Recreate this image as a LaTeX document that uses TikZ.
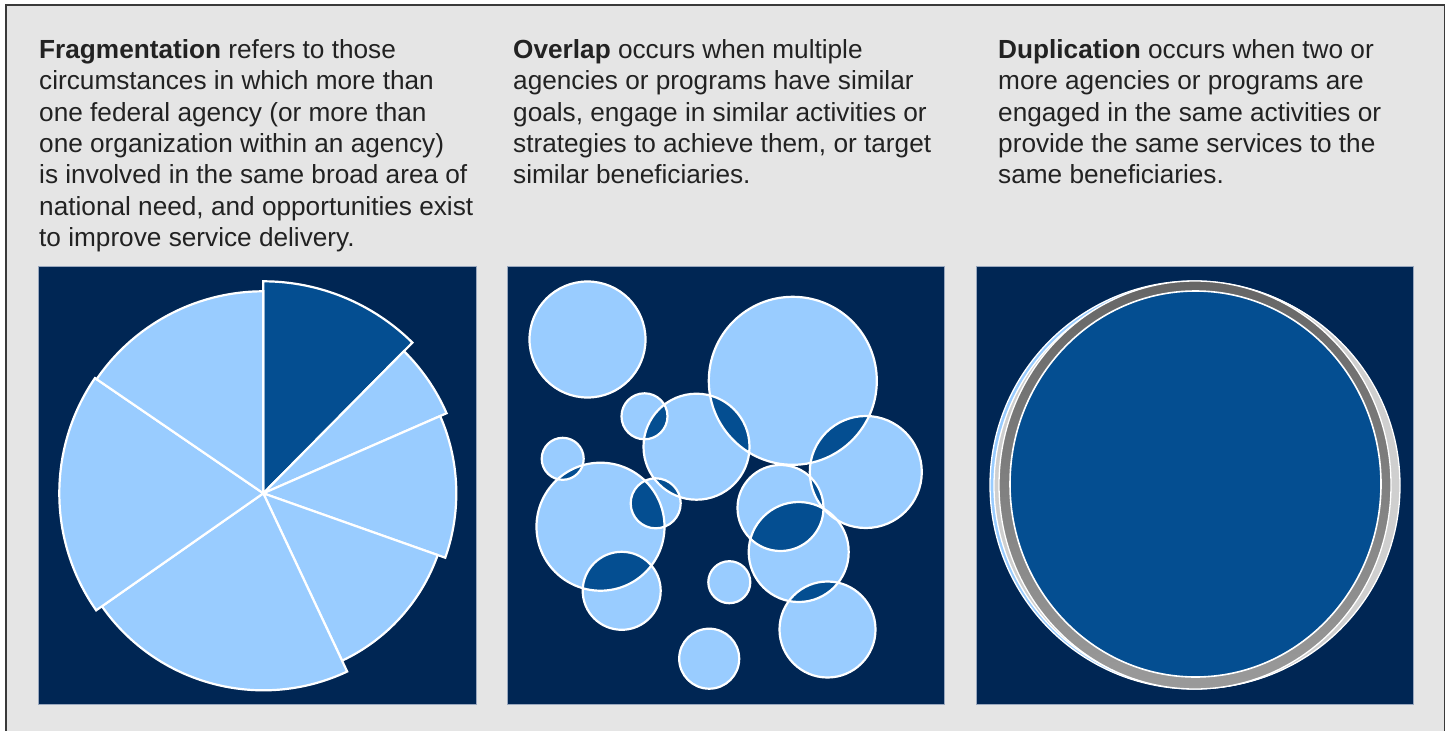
\documentclass[tikz,border=0pt]{standalone}
\usepackage{fontspec}
\setmainfont{Liberation Sans}
\definecolor{navy}{HTML}{002654}
\definecolor{darkblue}{HTML}{044E91}
\definecolor{lightblue}{HTML}{99CCFF}
\definecolor{bggray}{HTML}{E5E5E5}
\definecolor{framec}{HTML}{3A3A3A}
\definecolor{textc}{HTML}{222222}
\definecolor{panelrim}{HTML}{9AA8BE}
\definecolor{lgray}{HTML}{CFCFCF}
\definecolor{dgray}{HTML}{666666}
\definecolor{mgray}{HTML}{9A9A9A}
\newcommand\ovlens[6]{\begin{scope}\clip (#1,#2) circle[radius=#3];\fill[darkblue] (#4,#5) circle[radius=#6];\end{scope}}
\begin{document}
\begin{tikzpicture}[x=1pt,y=-1pt,
  txt/.style={align=left,inner sep=0pt,anchor=base west,text=textc,font=\fontsize{26.2}{31.4}\selectfont},
  panel/.style={fill=navy,draw=panelrim,line width=0.8pt},
  slice/.style={draw=white,line width=2.2pt,line join=miter},
  bubble/.style={draw=white,line width=2.2pt},
  ring/.style={draw=white,line width=1.3pt}]
\useasboundingbox (0,0) rectangle (1449,731);
\fill[white] (0,0) rectangle (1449,731);
\begin{scope}
\clip (0,0) rectangle (1449,731);
\filldraw[fill=bggray,draw=framec,line width=1.5pt] (6,5) rectangle (1444.5,745);
\end{scope}

% texts (anchored at the baseline of their last line)
\node[txt] (frag) at (39,246.7) {\textbf{Fragmentation} refers to those\\circumstances in which more than\\one federal agency (or more than\\one organization within an agency)\\is involved in the same broad area of\\national need, and opportunities exist\\to improve service delivery.};
\node[txt] (over) at (513,183.9) {\textbf{Overlap} occurs when multiple\\agencies or programs have similar\\goals, engage in similar activities or\\strategies to achieve them, or target\\similar beneficiaries.};
\node[txt] (dupl) at (998,183.9) {\textbf{Duplication} occurs when two or\\more agencies or programs are\\engaged in the same activities or\\provide the same services to the\\same beneficiaries.};

% panels
\draw[panel] (38,266) rectangle (476,704);
\draw[panel] (507,266) rectangle (944,704);
\draw[panel] (976,266) rectangle (1413.5,704);

% pie (fragmentation)
\begin{scope}[shift={(263.3,493.3)},yscale=-1]
\foreach \a/\b/\r/\c in {45.3/90/212/darkblue,23.6/45.3/200/lightblue,-19.5/23.6/193/lightblue,-64.8/-19.5/185/lightblue,-145/-64.8/197/lightblue,145.6/215/204/lightblue,90/145.6/202/lightblue}
  \filldraw[slice,fill=\c] (0,0) -- (\a:\r) arc[start angle=\a,end angle=\b,radius=\r] -- cycle;
\end{scope}

% overlap circles
\foreach \x/\y/\r in {587.5/339.5/58,792.8/380.8/84,644.5/416.3/23,696.5/446.7/53,865.8/472/56,562.7/458.8/21,600.5/526.7/64,655.7/503.3/25,780.5/508/43,798.7/552/50,621.7/590.8/39,729.3/582.2/21,827.5/629.5/48,709.2/658.7/30}
  \fill[lightblue] (\x,\y) circle[radius=\r];
\ovlens{792.8}{380.8}{84}{696.5}{446.7}{53}
\ovlens{792.8}{380.8}{84}{865.8}{472}{56}
\ovlens{644.5}{416.3}{23}{696.5}{446.7}{53}
\ovlens{696.5}{446.7}{53}{655.7}{503.3}{25}
\ovlens{865.8}{472}{56}{780.5}{508}{43}
\ovlens{865.8}{472}{56}{798.7}{552}{50}
\ovlens{562.7}{458.8}{21}{600.5}{526.7}{64}
\ovlens{600.5}{526.7}{64}{655.7}{503.3}{25}
\ovlens{600.5}{526.7}{64}{621.7}{590.8}{39}
\ovlens{780.5}{508}{43}{798.7}{552}{50}
\ovlens{798.7}{552}{50}{827.5}{629.5}{48}
\foreach \x/\y/\r in {587.5/339.5/58,792.8/380.8/84,644.5/416.3/23,696.5/446.7/53,865.8/472/56,562.7/458.8/21,600.5/526.7/64,655.7/503.3/25,780.5/508/43,798.7/552/50,621.7/590.8/39,729.3/582.2/21,827.5/629.5/48,709.2/658.7/30}
  \draw[bubble] (\x,\y) circle[radius=\r];

% duplication
\filldraw[ring,fill=lightblue] (1194,485) circle[radius=204];
\filldraw[ring,fill=lgray] (1197,485.5) circle[radius=203];
\shade[top color=dgray,bottom color=mgray] (1195,485) ellipse[x radius=196,y radius=204];
\draw[ring] (1195,485) ellipse[x radius=196,y radius=204];
\filldraw[ring,line width=1.6pt,fill=darkblue] (1195.5,484) ellipse[x radius=185.5,y radius=193];
\end{tikzpicture}
\end{document}
